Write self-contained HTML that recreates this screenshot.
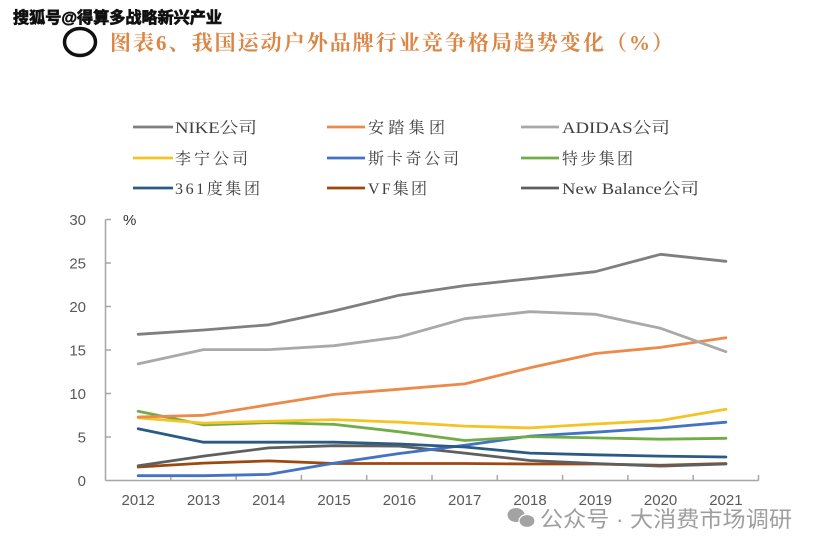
<!DOCTYPE html>
<html>
<head>
<meta charset="utf-8">
<style>
  html,body{margin:0;padding:0;background:#fff;}
  body{width:819px;height:551px;overflow:hidden;}
  svg{display:block;}
</style>
</head>
<body>
<svg width="819" height="551" viewBox="0 0 819 551" xmlns="http://www.w3.org/2000/svg">
  <rect width="819" height="551" fill="#ffffff"/>

  <!-- top watermark -->
  <text x="13" y="23" font-family="'Liberation Sans','Noto Sans CJK SC',sans-serif" font-size="16" font-weight="bold" fill="#111" stroke="#111" stroke-width="0.7" textLength="209" lengthAdjust="spacingAndGlyphs">搜狐号@得算多战略新兴产业</text>

  <!-- circle -->
  <ellipse cx="80" cy="42" rx="15.5" ry="13.5" fill="none" stroke="#111" stroke-width="3.5"/>

  <!-- title -->
  <text x="110" y="50" font-family="'Liberation Serif','Noto Serif CJK SC',serif" font-size="21" font-weight="bold" fill="#dc8545" textLength="563" lengthAdjust="spacing">图表6、我国运动户外品牌行业竞争格局趋势变化（%）</text>

  <!-- legend -->
  <g stroke-width="2.8" fill="none">
    <line x1="133" y1="127" x2="173" y2="127" stroke="#7f7f7f"/>
    <line x1="327" y1="127" x2="365" y2="127" stroke="#eb8a4a"/>
    <line x1="521" y1="127" x2="559" y2="127" stroke="#a9a9a9"/>
    <line x1="133" y1="158" x2="173" y2="158" stroke="#f4c324"/>
    <line x1="327" y1="158" x2="365" y2="158" stroke="#4472c4"/>
    <line x1="521" y1="158" x2="559" y2="158" stroke="#70ad47"/>
    <line x1="133" y1="188" x2="173" y2="188" stroke="#2b5a85"/>
    <line x1="327" y1="188" x2="365" y2="188" stroke="#9e480e"/>
    <line x1="521" y1="188" x2="559" y2="188" stroke="#5f5f5f"/>
  </g>
  <g font-family="'Liberation Serif','Noto Serif CJK SC',serif" font-size="16" fill="#404040">
    <text x="175" y="133" textLength="82" lengthAdjust="spacingAndGlyphs">NIKE公司</text>
    <text x="368" y="133" textLength="77" lengthAdjust="spacing">安踏集团</text>
    <text x="562" y="133" textLength="108" lengthAdjust="spacingAndGlyphs">ADIDAS公司</text>
    <text x="175" y="164" textLength="73" lengthAdjust="spacing">李宁公司</text>
    <text x="368" y="164" textLength="91" lengthAdjust="spacing">斯卡奇公司</text>
    <text x="562" y="164" textLength="71" lengthAdjust="spacing">特步集团</text>
    <text x="175" y="194" textLength="85" lengthAdjust="spacing">361度集团</text>
    <text x="368" y="194" textLength="59" lengthAdjust="spacing">VF集团</text>
    <text x="562" y="194" textLength="137" lengthAdjust="spacingAndGlyphs">New Balance公司</text>
  </g>

  <!-- axes -->
  <g stroke="#a6a6a6" stroke-width="1.5" fill="none">
    <line x1="105.5" y1="219.5" x2="105.5" y2="480.5"/>
    <line x1="105.5" y1="480.5" x2="758.5" y2="480.5"/>
    <line x1="105.5" y1="219.5" x2="111" y2="219.5"/>
    <line x1="105.5" y1="263" x2="111" y2="263"/>
    <line x1="105.5" y1="306.5" x2="111" y2="306.5"/>
    <line x1="105.5" y1="350" x2="111" y2="350"/>
    <line x1="105.5" y1="393.5" x2="111" y2="393.5"/>
    <line x1="105.5" y1="437" x2="111" y2="437"/>
    <line x1="170.8" y1="475" x2="170.8" y2="480.5"/>
    <line x1="236.1" y1="475" x2="236.1" y2="480.5"/>
    <line x1="301.4" y1="475" x2="301.4" y2="480.5"/>
    <line x1="366.7" y1="475" x2="366.7" y2="480.5"/>
    <line x1="432" y1="475" x2="432" y2="480.5"/>
    <line x1="497.3" y1="475" x2="497.3" y2="480.5"/>
    <line x1="562.6" y1="475" x2="562.6" y2="480.5"/>
    <line x1="627.9" y1="475" x2="627.9" y2="480.5"/>
    <line x1="693.2" y1="475" x2="693.2" y2="480.5"/>
    <line x1="758.5" y1="475" x2="758.5" y2="480.5"/>
  </g>

  <!-- y labels -->
  <g font-family="'Liberation Sans',sans-serif" font-size="15" fill="#595959" text-anchor="end">
    <text x="86" y="225">30</text>
    <text x="86" y="268.5">25</text>
    <text x="86" y="312">20</text>
    <text x="86" y="355.5">15</text>
    <text x="86" y="399">10</text>
    <text x="86" y="442.5">5</text>
    <text x="86" y="486">0</text>
  </g>
  <text x="123" y="225" font-family="'Liberation Sans',sans-serif" font-size="15" fill="#333">%</text>

  <!-- x labels -->
  <g font-family="'Liberation Sans',sans-serif" font-size="15" fill="#595959" text-anchor="middle">
    <text x="138.2" y="505">2012</text>
    <text x="203.5" y="505">2013</text>
    <text x="268.8" y="505">2014</text>
    <text x="334.1" y="505">2015</text>
    <text x="399.4" y="505">2016</text>
    <text x="464.7" y="505">2017</text>
    <text x="530" y="505">2018</text>
    <text x="595.3" y="505">2019</text>
    <text x="660.6" y="505">2020</text>
    <text x="725.9" y="505">2021</text>
  </g>

  <!-- series -->
  <g fill="none" stroke-width="2.8" stroke-linejoin="round" stroke-linecap="round">
    <polyline stroke="#9e480e" points="138.2,467 203.5,463.1 268.8,460.9 334.1,463.5 399.4,463.5 464.7,463.5 530,464 595.3,464 660.6,465.3 725.9,463.5"/>
    <polyline stroke="#5f5f5f" points="138.2,465.7 203.5,456.1 268.8,447.9 334.1,445.7 399.4,446.1 464.7,453.1 530,460.5 595.3,463.5 660.6,466.1 725.9,464"/>
    <polyline stroke="#4472c4" points="138.2,475.7 203.5,475.7 268.8,474.4 334.1,463.1 399.4,453.5 464.7,445.3 530,436.1 595.3,432.2 660.6,427.9 725.9,422.2"/>
    <polyline stroke="#2b5a85" points="138.2,428.7 203.5,442.2 268.8,442.2 334.1,442.2 399.4,444 464.7,447 530,453.1 595.3,454.8 660.6,456.1 725.9,457"/>
    <polyline stroke="#70ad47" points="138.2,411.3 203.5,424.8 268.8,422.6 334.1,424.4 399.4,431.8 464.7,440.5 530,436.6 595.3,437.9 660.6,439.2 725.9,438.3"/>
    <polyline stroke="#f4c324" points="138.2,417.9 203.5,423.1 268.8,421.3 334.1,419.6 399.4,422.2 464.7,426.1 530,427.9 595.3,424 660.6,420.5 725.9,409.2"/>
    <polyline stroke="#eb8a4a" points="138.2,417 203.5,415.3 268.8,404.8 334.1,394.4 399.4,389.2 464.7,383.9 530,367.8 595.3,353.5 660.6,347.4 725.9,337.8"/>
    <polyline stroke="#a9a9a9" points="138.2,363.9 203.5,349.6 268.8,349.6 334.1,345.7 399.4,337 464.7,318.7 530,311.7 595.3,314.3 660.6,328.3 725.9,351.7"/>
    <polyline stroke="#7f7f7f" points="138.2,334.3 203.5,330 268.8,324.8 334.1,310.9 399.4,295.2 464.7,285.6 530,278.7 595.3,271.7 660.6,254.3 725.9,261.3"/>
  </g>

  <!-- bottom watermark -->
  <g fill="#a3a3a3">
    <ellipse cx="516" cy="515" rx="8.5" ry="7"/>
    <ellipse cx="527" cy="521" rx="8" ry="6.5" stroke="#fff" stroke-width="1.2"/>
  </g>
  <text x="540" y="527" font-family="'Liberation Sans','Noto Sans CJK SC',sans-serif" font-size="22" fill="#9e9e9e" textLength="252" lengthAdjust="spacingAndGlyphs">公众号 · 大消费市场调研</text>
</svg>
</body>
</html>
